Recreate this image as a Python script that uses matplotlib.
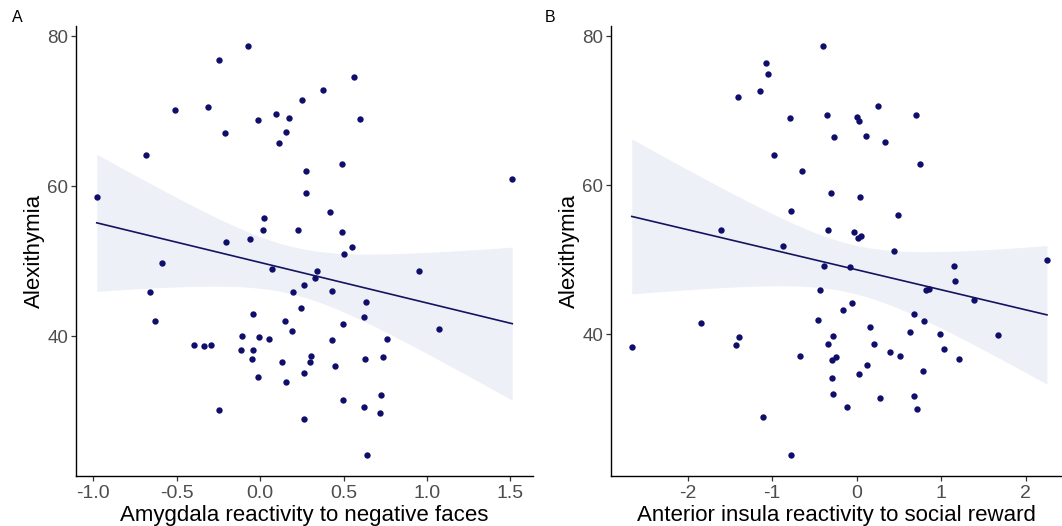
import numpy as np
import matplotlib
matplotlib.use('Agg')
import matplotlib.pyplot as plt

plt.rcParams['font.family'] = ['Liberation Sans', 'DejaVu Sans']

# Panel A: amygdala reactivity vs alexithymia
amyg_x = [-0.98, -0.683, -0.511, -0.315, -0.245, -0.072, -0.21, -0.014, 0.092, 0.174, 0.154, 0.114,
          0.253, 0.02, 0.016, 0.226, -0.208, -0.06,
          0.565, 0.375, 0.599, 0.493, 0.274, 0.277, 1.511, 0.419, 0.489, 0.551, 0.501,
          -0.589, 0.068, -0.66, 0.196, 0.245, -0.044, -0.629, 0.148, 0.19, -0.11, -0.006, 0.054,
          -0.397, -0.335, -0.293, -0.118, -0.044, -0.048, 0.128, -0.016, 0.152, -0.245,
          0.343, 0.331, 0.262, 0.95, 0.429, 0.637, 0.621, 0.499, 1.074, 0.429, 0.763, 0.307,
          0.297, 0.627, 0.739, 0.447, 0.26, 0.725, 0.495, 0.625, 0.717, 0.262, 0.639]
amyg_y = [58.6, 64.2, 70.2, 70.5, 76.8, 78.7, 67.1, 68.8, 69.6, 69.1, 67.2, 65.7,
          71.5, 55.7, 54.1, 54.1, 52.6, 53.0,
          74.6, 72.8, 68.9, 63.0, 62.0, 59.1, 61.0, 56.5, 53.9, 51.9, 50.9,
          49.8, 49.0, 45.9, 45.9, 43.7, 42.9, 42.0, 42.0, 40.7, 40.0, 39.9, 39.6,
          38.8, 38.7, 38.8, 38.1, 38.1, 36.9, 36.5, 34.5, 33.9, 30.1,
          48.7, 47.8, 46.8, 48.7, 46.0, 44.6, 42.5, 41.6, 40.9, 39.5, 39.6, 37.4,
          36.6, 37.0, 37.2, 36.0, 35.1, 32.1, 31.5, 30.6, 29.8, 28.9, 24.1]

# Panel B: anterior insula reactivity vs alexithymia
insula_x = [-0.396, -1.077, -1.045, -1.143, -1.407, -0.785, -0.352, -0.974, -0.647, -0.309, -0.782,
            -1.608, -0.336, -0.871,
            0.246, 0.703, 0.002, 0.033, -0.266, 0.112, 0.329, 0.746, 0.038, 0.494, -0.03, 0.018,
            0.045, 0.443, 2.249,
            -0.392, -0.439, -0.458, -1.84, -1.391, -1.431, -2.659, -0.336, -0.667, -0.297, -1.107, -0.777,
            -0.08, 1.155, 1.167, 0.821, 0.86, 1.383, -0.053, -0.167, 0.683, 0.797, 0.155, 0.632,
            0.986, 1.674, -0.286, 0.203, 1.029, 0.392, 0.517, 1.214, -0.242, 0.116, 0.781, 0.03,
            -0.289, -0.281, 0.274, 0.683, -0.116, 0.718]
insula_y = [78.7, 76.4, 74.9, 72.7, 71.8, 69.0, 69.5, 64.1, 61.9, 59.0, 56.6,
            54.0, 54.0, 51.8,
            70.7, 69.5, 69.2, 68.7, 66.5, 66.6, 65.8, 62.8, 58.5, 56.0, 53.7, 53.0,
            53.2, 51.2, 50.0,
            49.2, 46.0, 41.9, 41.6, 39.7, 38.6, 38.3, 38.7, 37.1, 36.6, 28.9, 23.8,
            49.1, 49.2, 47.2, 45.9, 46.1, 44.6, 44.2, 43.3, 42.7, 41.8, 41.0, 40.3,
            40.0, 39.9, 39.8, 38.7, 38.1, 37.7, 37.1, 36.7, 37.0, 35.9, 35.1, 34.7,
            34.1, 32.0, 31.5, 31.8, 30.3, 30.0]

POINT = '#0f0f6b'
LINE = '#14145e'
BAND = '#eef0f7'


def lm_with_ci(x, y):
    x = np.asarray(x); y = np.asarray(y)
    n = len(x)
    b, a = np.polyfit(x, y, 1)
    xs = np.linspace(x.min(), x.max(), 200)
    fit = a + b * xs
    resid = y - (a + b * x)
    s = np.sqrt(np.sum(resid ** 2) / (n - 2))
    df = n - 2
    z = 1.959964
    t = z + (z ** 3 + z) / (4 * df)
    se = s * np.sqrt(1 / n + (xs - x.mean()) ** 2 / np.sum((x - x.mean()) ** 2))
    return xs, fit, fit - t * se, fit + t * se


def expand(v):
    lo, hi = min(v), max(v)
    r = hi - lo
    return lo - 0.05 * r, hi + 0.05 * r


def panel(ax, x, y, xlabel, xticks, xticklabels):
    xs, fit, lo, hi = lm_with_ci(x, y)
    ax.fill_between(xs, lo, hi, color=BAND, lw=0, zorder=1)
    ax.plot(xs, fit, color=LINE, lw=1.2, zorder=2)
    ax.scatter(x, y, s=21, color=POINT, lw=0, zorder=3)
    ax.set_xlim(expand(x))
    ax.set_ylim(expand(y))
    ax.set_xticks(xticks)
    ax.set_xticklabels(xticklabels)
    ax.set_yticks([40, 60, 80])
    ax.set_xlabel(xlabel, fontsize=16, color='black', labelpad=2)
    ax.set_ylabel('Alexithymia', fontsize=16, color='black', labelpad=2)
    ax.tick_params(labelcolor='#4d4d4d', color='#333333', length=3.5, width=0.9)
    ax.tick_params(axis='x', labelsize=14, pad=3)
    ax.tick_params(axis='y', labelsize=13.5, pad=2)
    for side in ['top', 'right']:
        ax.spines[side].set_visible(False)
    for side in ['left', 'bottom']:
        ax.spines[side].set_color('black')
        ax.spines[side].set_linewidth(1.0)


W, H = 1062, 526
fig = plt.figure(figsize=(W / 100, H / 100), dpi=100)
bottom = (H - 475.7) / H
height = (475.7 - 25.5) / H

ax1 = fig.add_axes([76 / W, bottom, (533 - 76) / W, height])
panel(ax1, amyg_x, amyg_y, 'Amygdala reactivity to negative faces',
      [-1.0, -0.5, 0.0, 0.5, 1.0, 1.5], ['-1.0', '-0.5', '0.0', '0.5', '1.0', '1.5'])

ax2 = fig.add_axes([611 / W, bottom, (1061 - 611) / W, height])
panel(ax2, insula_x, insula_y, 'Anterior insula reactivity to social reward',
      [-2, -1, 0, 1, 2], ['-2', '-1', '0', '1', '2'])
ax2.set_xlim(expand(insula_x)[0], 2.415)

fig.text(12 / W, 1 - 18 / H, 'A', fontsize=11.5, va='center', ha='left')
fig.text(545 / W, 1 - 18 / H, 'B', fontsize=11.5, va='center', ha='left')

fig.savefig('out.png', dpi=100)
